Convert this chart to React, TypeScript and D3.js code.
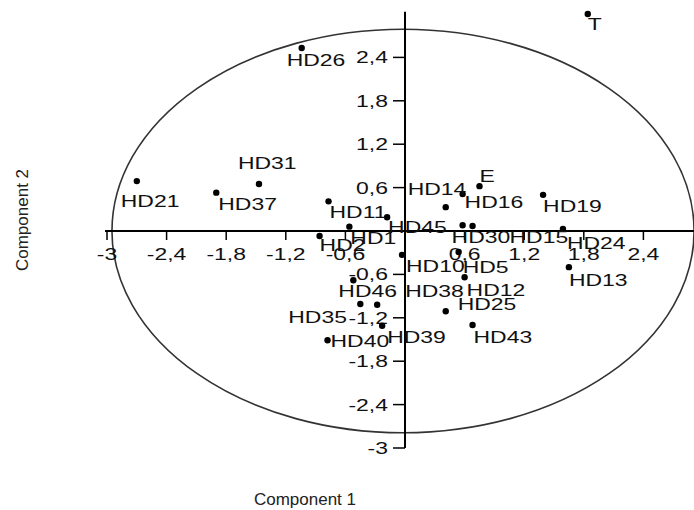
import React from "react";
import * as d3 from "d3";

// ---- data ----
const pointNames = [
  "T", "HD26", "HD21", "HD37", "HD31", "E", "HD16", "HD14", "HD19", "HD11",
  "HD45", "HD1", "HD2", "HD30", "HD15", "HD24", "HD13", "HD10", "HD5", "HD12",
  "HD46", "HD35", "HD38", "HD39", "HD40", "HD25", "HD43",
];
const component1 = [
  1.84, -1.04, -2.70, -1.90, -1.47, 0.75, 0.58, 0.41, 1.39, -0.77,
  -0.18, -0.56, -0.86, 0.58, 0.68, 1.59, 1.65, -0.03, 0.54, 0.60,
  -0.52, -0.45, -0.28, -0.23, -0.78, 0.41, 0.68,
];
const component2 = [
  3.00, 2.53, 0.69, 0.53, 0.65, 0.62, 0.51, 0.33, 0.50, 0.41,
  0.19, 0.06, -0.07, 0.08, 0.07, 0.03, -0.50, -0.33, -0.29, -0.64,
  -0.68, -1.01, -1.02, -1.31, -1.51, -1.11, -1.30,
];
const xTickValues = [-3, -2.4, -1.8, -1.2, -0.6, 0.6, 1.2, 1.8, 2.4];
const yTickValues = [2.4, 1.8, 1.2, 0.6, -0.6, -1.2, -1.8, -2.4, -3];
const ellipseCenter = [-0.02, 0];
const ellipseRadii = [2.93, 2.79];
const xTitle = "Component 1";
const yTitle = "Component 2";

// ---- label placement (pixel offsets from each point) ----
const labelOffsets: Record<string, [number, number]> = {
  T: [0, 16], HD26: [-15, 18], HD21: [-16, 26], HD37: [2, 17], HD31: [-21, -15],
  E: [0, -4], HD16: [2, 14], HD14: [-38, -12], HD19: [0, 17], HD11: [1, 17],
  HD45: [1, 16], HD1: [1, 17], HD2: [0, 15], HD30: [-11, 18], HD15: [37, 17],
  HD24: [4, 20], HD13: [0, 19], HD10: [4, 17], HD5: [4, 21], HD12: [2, 19],
  HD46: [-15, 17], HD35: [-72, 19], HD38: [28, -8], HD39: [5, 17], HD40: [3, 7],
  HD25: [12, -1], HD43: [1, 18],
};

const W = 694;
const H = 510;
const fmt = (v: number) => String(+v.toFixed(1)).replace(".", ",");

export default function App() {
  const x = d3.scaleLinear().domain([-3, 3]).range([107, 703]);
  const y = d3.scaleLinear().domain([-3, 3]).range([448, 14]);
  const fs = 17;
  const sx = 1.35;
  const font = "'Liberation Sans', Arial, sans-serif";

  const pts = pointNames.map((n, i) => ({ n, cx: x(component1[i]), cy: y(component2[i]) }));

  return (
    <svg
      width={W}
      height={H}
      viewBox={`0 0 ${W} ${H}`}
      style={{ position: "absolute", left: 0, top: 0, background: "#fff" }}
      fontFamily={font}
    >
      <rect width={W} height={H} fill="#fff" />
      <ellipse
        cx={x(ellipseCenter[0])}
        cy={y(ellipseCenter[1])}
        rx={x(ellipseRadii[0]) - x(0)}
        ry={y(0) - y(ellipseRadii[1])}
        fill="none"
        stroke="#333"
        strokeWidth={1.6}
      />
      {/* x axis */}
      <line x1={x(-3.02)} x2={x(3)} y1={y(0)} y2={y(0)} stroke="#000" strokeWidth={2} />
      {xTickValues.map((v) => (
        <g key={"xt" + v}>
          <line x1={x(v)} x2={x(v)} y1={y(0)} y2={y(0) + 9} stroke="#000" strokeWidth={1.5} />
          <text
            transform={`translate(${x(v)},${y(0) + 29}) scale(${sx},1)`}
            textAnchor="middle"
            fontSize={fs}
            fill="#111"
          >
            {fmt(v)}
          </text>
        </g>
      ))}
      {/* y axis */}
      <line x1={x(0)} x2={x(0)} y1={y(-3)} y2={y(3.03)} stroke="#000" strokeWidth={2} />
      {yTickValues.map((v) => (
        <g key={"yt" + v}>
          <line x1={x(0) - 12} x2={x(0)} y1={y(v)} y2={y(v)} stroke="#000" strokeWidth={1.5} />
          <text
            transform={`translate(${x(0) - 17},${y(v) + 6}) scale(${sx},1)`}
            textAnchor="end"
            fontSize={fs}
            fill="#111"
          >
            {fmt(v)}
          </text>
        </g>
      ))}
      {/* points */}
      {pts.map((p) => (
        <circle key={"c" + p.n} cx={p.cx} cy={p.cy} r={3.2} fill="#000" />
      ))}
      {pts.map((p) => {
        const o = labelOffsets[p.n] || [0, 16];
        return (
          <text
            key={"l" + p.n}
            transform={`translate(${p.cx + o[0]},${p.cy + o[1]}) scale(${sx},1)`}
            fontSize={fs}
            fill="#111"
          >
            {p.n}
          </text>
        );
      })}
      {/* titles */}
      <text x={305} y={505} textAnchor="middle" fontSize={17} fill="#222">
        {xTitle}
      </text>
      <text transform={`translate(28,220) rotate(-90)`} textAnchor="middle" fontSize={17} fill="#222">
        {yTitle}
      </text>
    </svg>
  );
}
